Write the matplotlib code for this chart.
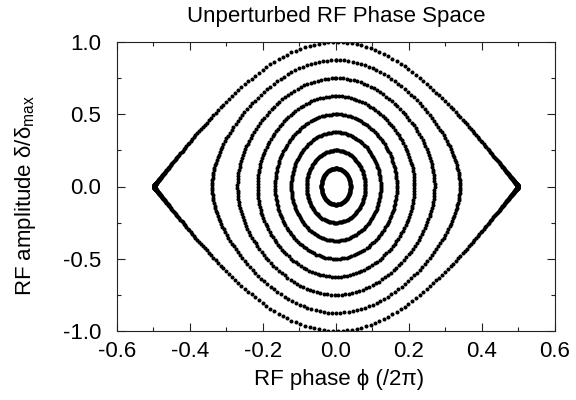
import numpy as np
import matplotlib
matplotlib.use("Agg")
import matplotlib.pyplot as plt
from matplotlib.ticker import MultipleLocator

# Orbit amplitudes (delta/delta_max at phi=0)
amplitudes = [0.875, 0.75, 0.625, 0.5, 0.375, 0.25, 0.125]
separatrix_amplitude = 1.0
x_ticks = [-0.6, -0.4, -0.2, 0.0, 0.2, 0.4, 0.6]
y_ticks = [-1.0, -0.5, 0.0, 0.5, 1.0]
title = "Unperturbed RF Phase Space"
xlabel = "RF phase \u03d5 (/2\u03c0)"
ylabel = "RF amplitude \u03b4/\u03b4$_{\\mathrm{max}}$"

dt = 0.0065  # tracking time step


def track(amp):
    """Leapfrog tracking of H = d^2 + sin^2(pi*phi), one full period."""
    phi, d = 0.0, amp
    out_p, out_d = [phi], [d]
    for _ in range(5000):
        d -= 0.5 * dt * np.pi * np.sin(2 * np.pi * phi)
        old = phi
        phi += dt * 2 * d
        d -= 0.5 * dt * np.pi * np.sin(2 * np.pi * phi)
        if old < 0 <= phi:
            break
        out_p.append(phi)
        out_d.append(d)
    return np.array(out_p), np.array(out_d)


plt.rcParams['font.family'] = ['Liberation Sans', 'DejaVu Sans']
plt.rcParams['mathtext.fontset'] = 'custom'
plt.rcParams['mathtext.rm'] = 'Liberation Sans'
plt.rcParams['mathtext.it'] = 'Liberation Sans:italic'

fig = plt.figure(figsize=(5.76, 4.0), dpi=100)
ax = fig.add_axes([0.2031, 0.1725, 0.7604, 0.7225])

ms = 2.9
# separatrix (time-uniform sampling)
t = np.arange(-1.2, 1.2, dt)
sp = (2 / np.pi) * np.arctan(np.exp(2 * np.pi * t)) - 0.5
sd = separatrix_amplitude / np.cosh(2 * np.pi * t)
ax.plot(sp, sd, 'o', color='black', ms=ms, mec='none')
ax.plot(sp, -sd, 'o', color='black', ms=ms, mec='none')

for a in amplitudes:
    p, d = track(a)
    ax.plot(p, d, 'o', color='black', ms=ms, mec='none')

ax.set_xlim(-0.6, 0.6)
ax.set_ylim(-1.0, 1.0)
ax.set_xticks(x_ticks)
ax.set_yticks(y_ticks)
ax.set_xticklabels([f"{v:.1f}" for v in x_ticks])
ax.set_yticklabels([f"{v:.1f}" for v in y_ticks])
ax.xaxis.set_minor_locator(MultipleLocator(0.1))
ax.yaxis.set_minor_locator(MultipleLocator(0.25))
ax.tick_params(which='both', direction='in', top=True, right=True,
               labelsize=16, color='#222222')
ax.tick_params(axis='x', which='major', pad=7)
ax.tick_params(axis='y', which='major', pad=11.5)
ax.tick_params(which='major', length=6, width=0.8)
ax.tick_params(which='minor', length=3, width=0.8)
for s in ax.spines.values():
    s.set_color('#222222')
    s.set_linewidth(0.8)

ax.set_title(title, fontsize=16, y=1.069, pad=0)
xl = ax.set_xlabel(xlabel, fontsize=16)
ax.xaxis.set_label_coords(0.507, -0.1869)
xl.set_verticalalignment('baseline')
yl = ax.set_ylabel(ylabel, fontsize=16)
ax.yaxis.set_label_coords(-0.2089, 0.469)
yl.set_verticalalignment('center')

fig.savefig("out.png", dpi=100)
